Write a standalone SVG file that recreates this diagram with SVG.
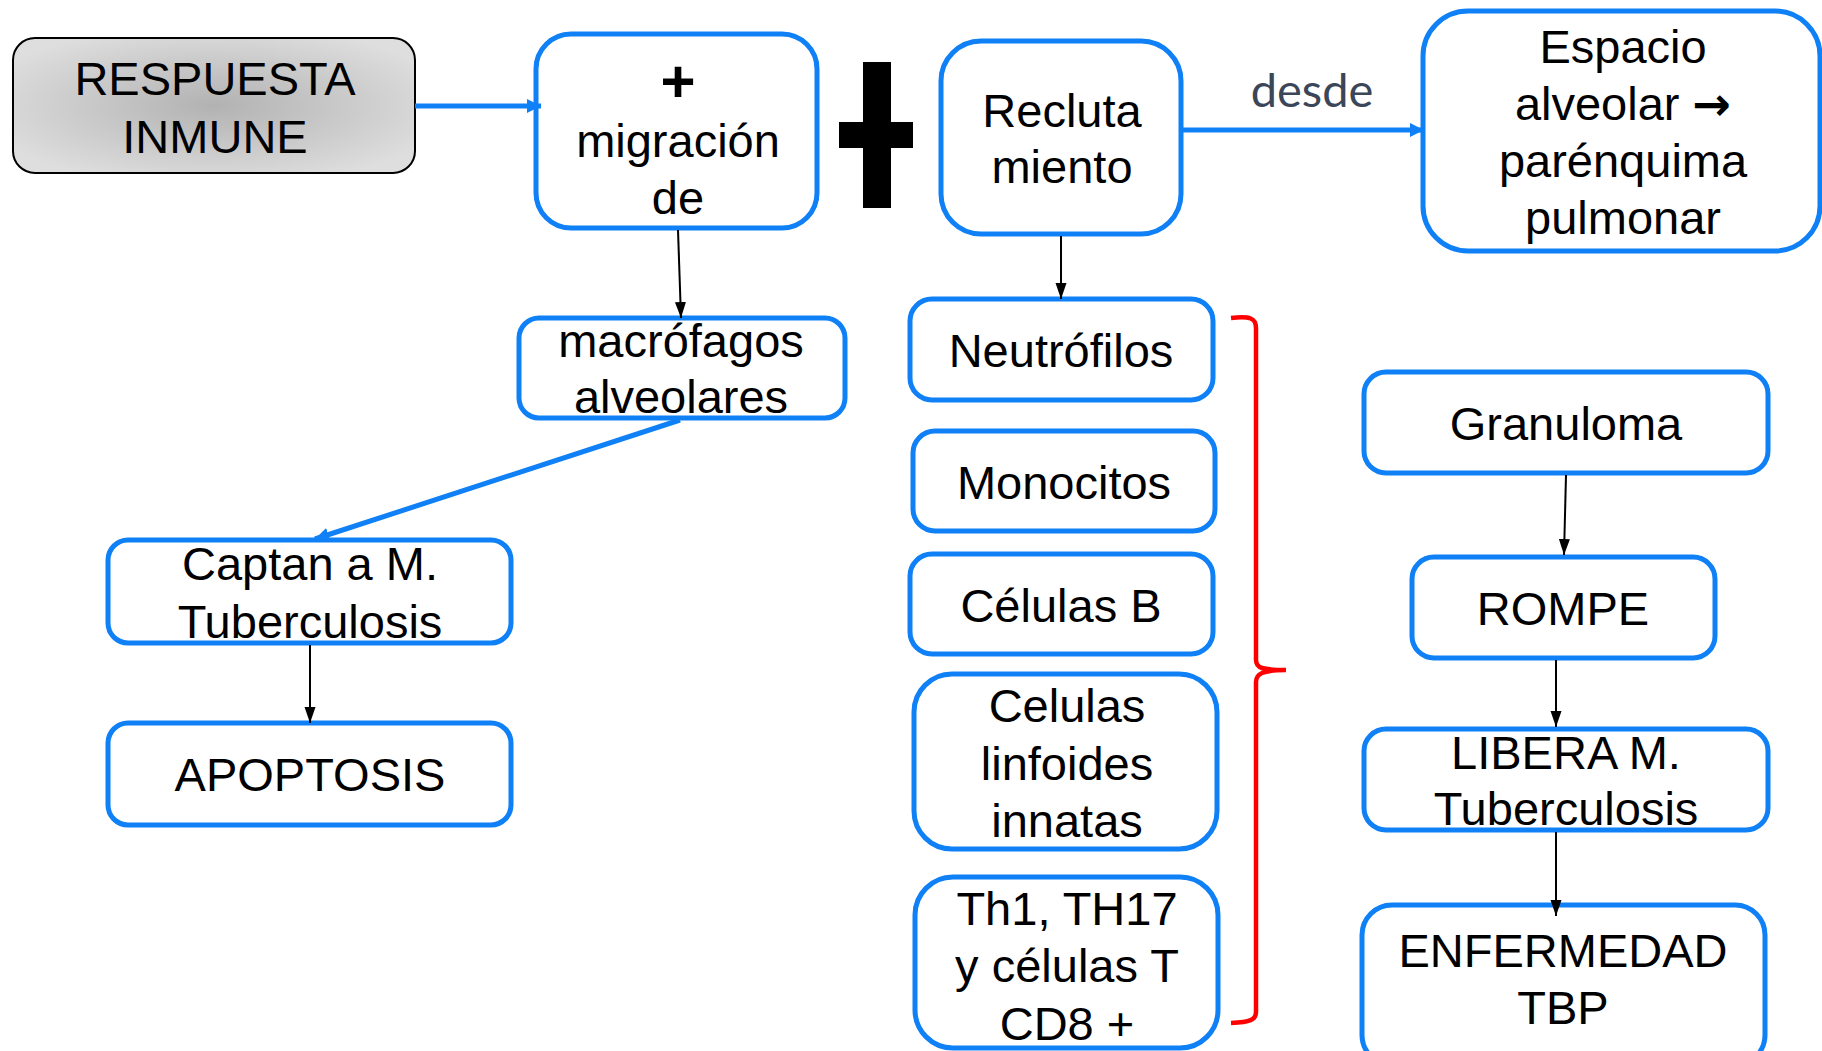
<svg xmlns="http://www.w3.org/2000/svg" width="1822" height="1051" viewBox="0 0 1822 1051">
<defs>
<radialGradient id="gray" cx="50%" cy="50%" r="60%">
<stop offset="0" stop-color="#b2b2b2"/>
<stop offset="1" stop-color="#dedede"/>
</radialGradient>
<marker id="bh" markerUnits="userSpaceOnUse" markerWidth="16" markerHeight="16" refX="14" refY="8" orient="auto">
<path d="M0,1 L14,8 L0,15 Z" fill="#0f80f5"/>
</marker>
<marker id="kh" markerUnits="userSpaceOnUse" markerWidth="16" markerHeight="14" refX="16" refY="7" orient="auto">
<path d="M0,1.5 L16,7 L0,12.5 Z" fill="#000"/>
</marker>
<style>
.box{fill:#fff;stroke:#0f80f5;stroke-width:5}
.t{font-family:"Liberation Sans",Arial,sans-serif;font-size:47px;fill:#000;text-anchor:middle}
.bl{stroke:#0f80f5;stroke-width:5;fill:none}
.kl{stroke:#000;stroke-width:2;fill:none}
</style>
</defs>

<g id="cross">
<rect x="863" y="62" width="28" height="146" fill="#000"/>
<rect x="839" y="122" width="74" height="26" fill="#000"/>
</g>

<g id="bracket">
<path d="M1231,318 C1250,316 1256,318 1256,328 L1256,660 C1256,668 1262,670 1286,670 C1262,670 1256,674 1256,682 L1256,1012 C1256,1020 1250,1022 1231,1023" fill="none" stroke="#ff0000" stroke-width="4.5"/>
</g>

<g id="respuesta">
<rect x="13" y="38" width="402" height="135" rx="22" fill="url(#gray)" stroke="#000" stroke-width="2"/>
<text class="t" x="215" y="95">RESPUESTA</text>
<text class="t" x="215" y="153">INMUNE</text>
</g>

<g id="migracion">
<rect class="box" x="536" y="34" width="281" height="194" rx="35"/>
<text class="t" x="678" y="102" style="font-weight:bold;font-size:60px">+</text>
<text class="t" x="678" y="157">migración</text>
<text class="t" x="678" y="214">de</text>
</g>

<g id="reclutamiento">
<rect class="box" x="941" y="41" width="240" height="193" rx="40"/>
<text class="t" x="1062" y="127">Recluta</text>
<text class="t" x="1062" y="183">miento</text>
</g>

<g id="espacio">
<rect class="box" x="1423" y="11" width="397" height="240" rx="45"/>
<text class="t" x="1623" y="63">Espacio</text>
<text class="t" x="1623" y="120">alveolar <tspan style="font-family:'DejaVu Sans',sans-serif;font-weight:bold;font-size:46px">→</tspan></text>
<text class="t" x="1623" y="177">parénquima</text>
<text class="t" x="1623" y="234">pulmonar</text>
</g>

<g id="macrofagos">
<rect class="box" x="519" y="318" width="326" height="100" rx="20"/>
<text class="t" x="681" y="357">macrófagos</text>
<text class="t" x="681" y="413">alveolares</text>
</g>

<g id="captan">
<rect class="box" x="108" y="540" width="403" height="103" rx="20"/>
<text class="t" x="310" y="580">Captan a M.</text>
<text class="t" x="310" y="638">Tuberculosis</text>
</g>

<g id="apoptosis">
<rect class="box" x="108" y="723" width="403" height="102" rx="20"/>
<text class="t" x="310" y="791">APOPTOSIS</text>
</g>

<g id="neutrofilos">
<rect class="box" x="910" y="299" width="303" height="101" rx="22"/>
<text class="t" x="1061" y="367">Neutrófilos</text>
</g>

<g id="monocitos">
<rect class="box" x="913" y="431" width="302" height="100" rx="22"/>
<text class="t" x="1064" y="499">Monocitos</text>
</g>

<g id="celulasb">
<rect class="box" x="910" y="554" width="303" height="100" rx="22"/>
<text class="t" x="1061" y="622">Células B</text>
</g>

<g id="linfoides">
<rect class="box" x="914" y="674" width="303" height="175" rx="38"/>
<text class="t" x="1067" y="722">Celulas</text>
<text class="t" x="1067" y="780">linfoides</text>
<text class="t" x="1067" y="837">innatas</text>
</g>

<g id="th1">
<rect class="box" x="915" y="877" width="303" height="171" rx="38"/>
<text class="t" x="1067" y="925">Th1, TH17</text>
<text class="t" x="1067" y="982">y células T</text>
<text class="t" x="1067" y="1040">CD8 +</text>
</g>

<g id="granuloma">
<rect class="box" x="1364" y="372" width="404" height="101" rx="22"/>
<text class="t" x="1566" y="440">Granuloma</text>
</g>

<g id="rompe">
<rect class="box" x="1412" y="557" width="303" height="101" rx="22"/>
<text class="t" x="1563" y="625">ROMPE</text>
</g>

<g id="libera">
<rect class="box" x="1364" y="729" width="404" height="101" rx="22"/>
<text class="t" x="1566" y="769">LIBERA M.</text>
<text class="t" x="1566" y="825">Tuberculosis</text>
</g>

<g id="enfermedad">
<rect class="box" x="1362" y="905" width="403" height="160" rx="30"/>
<text class="t" x="1563" y="967">ENFERMEDAD</text>
<text class="t" x="1563" y="1024">TBP</text>
</g>

<g id="connectors">
<line class="bl" x1="415" y1="106" x2="541" y2="106" marker-end="url(#bh)"/>
<line class="bl" x1="1182" y1="130" x2="1424" y2="130" marker-end="url(#bh)"/>
<line class="bl" x1="680" y1="420" x2="315" y2="539" marker-end="url(#bh)"/>
<line class="kl" x1="678" y1="230" x2="681" y2="318" marker-end="url(#kh)"/>
<line class="kl" x1="1061" y1="236" x2="1061" y2="299" marker-end="url(#kh)"/>
<line class="kl" x1="310" y1="645" x2="310" y2="723" marker-end="url(#kh)"/>
<line class="kl" x1="1566" y1="475" x2="1564" y2="555" marker-end="url(#kh)"/>
<line class="kl" x1="1556" y1="660" x2="1556" y2="727" marker-end="url(#kh)"/>
<line class="kl" x1="1556" y1="832" x2="1556" y2="916" marker-end="url(#kh)"/>
<text x="1312" y="107" style="font-family:Lato,'Liberation Sans',sans-serif;font-size:47px;fill:#3b4658;text-anchor:middle">desde</text>
</g>
</svg>
